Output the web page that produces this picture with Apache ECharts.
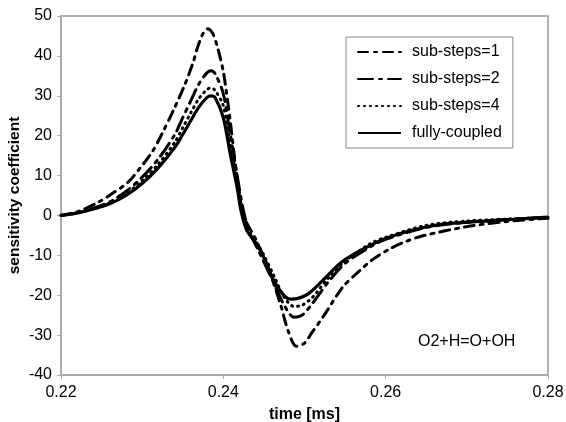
<!DOCTYPE html>
<html><head><meta charset="utf-8">
<script src="https://cdn.jsdelivr.net/npm/echarts@6/dist/echarts.min.js"></script>
<style>html,body{margin:0;padding:0;background:#fff}#c{width:566px;height:422px}</style>
</head><body><div id="c"></div>
<script>
// Data (time in ms, sensitivity coefficient)
var seriesNames = ['sub-steps=1', 'sub-steps=2', 'sub-steps=4', 'fully-coupled'];
var xTicks = [0.22, 0.24, 0.26, 0.28];
var yTicks = [-40, -30, -20, -10, 0, 10, 20, 30, 40, 50];

var sub1X = [0.220,0.222,0.2244,0.2264,0.2283,0.2297,0.2312,0.2324,0.2340,0.2353,0.2363,0.2368,0.2375,0.2381,0.2387,0.2393,0.2400,0.2408,0.2416,0.2425,0.2440,0.2455,0.2470,0.2480,0.2490,0.2500,0.2509,0.2522,0.2547,0.2565,0.2583,0.2603,0.2624,0.2646,0.2700,0.2750,0.2800];
var sub1Y = [0,0.9,3.1,5.6,8.4,11.8,15.8,20.3,27,33,38.5,42,45.6,46.8,45.6,42,36,24.5,11,0,-6,-13,-22,-29,-32.8,-32,-29.4,-25.7,-18,-14.4,-11.2,-8.6,-6.6,-5.1,-2.8,-1.5,-0.7];

var sub2X = [0.220,0.222,0.224,0.226,0.228,0.230,0.232,0.234,0.235,0.236,0.237,0.238,0.2385,0.239,0.240,0.2408,0.2417,0.2425,0.2433,0.2445,0.2460,0.2475,0.2487,0.2497,0.2510,0.2530,0.2550,0.2580,0.2600,0.2650,0.2700,0.2750,0.2800];
var sub2Y = [0,0.6,1.8,3.4,6,9.6,14.2,20.2,24.5,28.8,33,35.8,36.3,35.5,30.5,21,10,1,-4.5,-9.5,-16,-22.5,-25.5,-25,-22,-16.5,-12,-8,-6,-3,-1.7,-1,-0.5];

var sub4X = [0.220,0.222,0.224,0.226,0.228,0.230,0.232,0.234,0.235,0.236,0.237,0.238,0.2385,0.239,0.240,0.2408,0.2417,0.2424,0.2431,0.2440,0.2450,0.2462,0.2475,0.2487,0.2497,0.2510,0.2530,0.2550,0.2580,0.2600,0.2650,0.2700,0.2750,0.2800];
var sub4Y = [0,0.6,1.7,3.1,5.4,8.7,12.9,18.3,22,25.8,29.3,31.6,32,31.3,27.5,18.5,8.5,1,-3.9,-6.5,-10,-15,-20.5,-22.8,-22.5,-20.5,-15.5,-11.5,-7.2,-5.5,-2.5,-1.4,-0.9,-0.5];

var fullX = [0.220,0.222,0.224,0.226,0.228,0.230,0.232,0.234,0.235,0.236,0.237,0.238,0.2385,0.239,0.240,0.2408,0.2417,0.2422,0.2429,0.2437,0.2445,0.2453,0.2462,0.2474,0.2484,0.2495,0.2505,0.2520,0.2544,0.2560,0.2602,0.2663,0.2725,0.2800];
var fullY = [0,0.6,1.6,2.9,5,8,12,17,20.3,23.8,27.2,29.6,30,29.5,24.5,16,7,1,-3.8,-6,-8.6,-12,-16.2,-19.9,-21,-20.6,-19.6,-16.8,-12,-9.8,-5.6,-2.4,-1.4,-0.4];

function zip(a, b) { return a.map(function (v, i) { return [v, b[i]]; }); }

var chart = echarts.init(document.getElementById('c'), null, {renderer: 'canvas'});
var font = 'Liberation Sans, Arial, Helvetica, sans-serif';
function mk(name, xs, ys, type, w) {
  return {
    name: name, type: 'line', data: zip(xs, ys), smooth: 0.3, symbol: 'none',
    lineStyle: { color: '#000', width: w, type: type, cap: type === 'solid' ? 'butt' : 'round' },
    itemStyle: { color: '#000' }
  };
}
chart.setOption({
  animation: false,
  backgroundColor: '#fff',
  grid: { left: 61, top: 16, right: 18, bottom: 47, show: true, borderColor: '#999', borderWidth: 1.5,
          containLabel: false, outerBoundsMode: 'none' },
  legend: {
    data: seriesNames, orient: 'vertical', left: 346, top: 37,
    padding: [7, 11, 7, 11], itemGap: 11, itemWidth: 43, itemHeight: 14,
    borderColor: '#888', borderWidth: 1, backgroundColor: '#fff',
    itemStyle: { opacity: 0, borderWidth: 0 },
    textStyle: { fontFamily: font, fontSize: 16, color: '#000', padding: [0, 0, 0, 6] }
  },
  xAxis: {
    type: 'value', min: xTicks[0], max: xTicks[xTicks.length - 1], interval: 0.02,
    name: 'time [ms]', nameLocation: 'middle', nameGap: 32, nameMoveOverlap: false,
    nameTextStyle: { fontFamily: font, fontSize: 16, fontWeight: 'bold', color: '#000' },
    axisLine: { onZero: false, lineStyle: { color: '#aaa', width: 2 } },
    axisTick: { length: 4, lineStyle: { color: '#aaa' } },
    axisLabel: { fontFamily: font, fontSize: 16, color: '#000', margin: 10, formatter: function (v) { return v.toFixed(2); } },
    splitLine: { show: false }
  },
  yAxis: {
    type: 'value', min: yTicks[0], max: yTicks[yTicks.length - 1], interval: 10,
    name: 'sensitivity coefficient', nameLocation: 'middle', nameGap: 38, nameRotate: 90, nameMoveOverlap: false,
    nameTextStyle: { fontFamily: font, fontSize: 15.5, fontWeight: 'bold', color: '#000' },
    axisLine: { show: true, onZero: false, lineStyle: { color: '#aaa', width: 2 } },
    axisTick: { show: true, length: 4, lineStyle: { color: '#aaa' } },
    axisLabel: { fontFamily: font, fontSize: 16, color: '#000', margin: 9 },
    splitLine: { show: false }
  },
  graphic: [{
    type: 'text', left: 418, top: 334,
    style: { text: 'O2+H=O+OH', font: '16px ' + font, fill: '#000' }
  }],
  series: [
    mk(seriesNames[0], sub1X, sub1Y, [10, 6, 3, 6], 3),
    mk(seriesNames[1], sub2X, sub2Y, [15, 6, 3, 6], 3),
    mk(seriesNames[2], sub4X, sub4Y, [1, 5], 3),
    mk(seriesNames[3], fullX, fullY, 'solid', 3.2)
  ]
});
</script></body></html>
